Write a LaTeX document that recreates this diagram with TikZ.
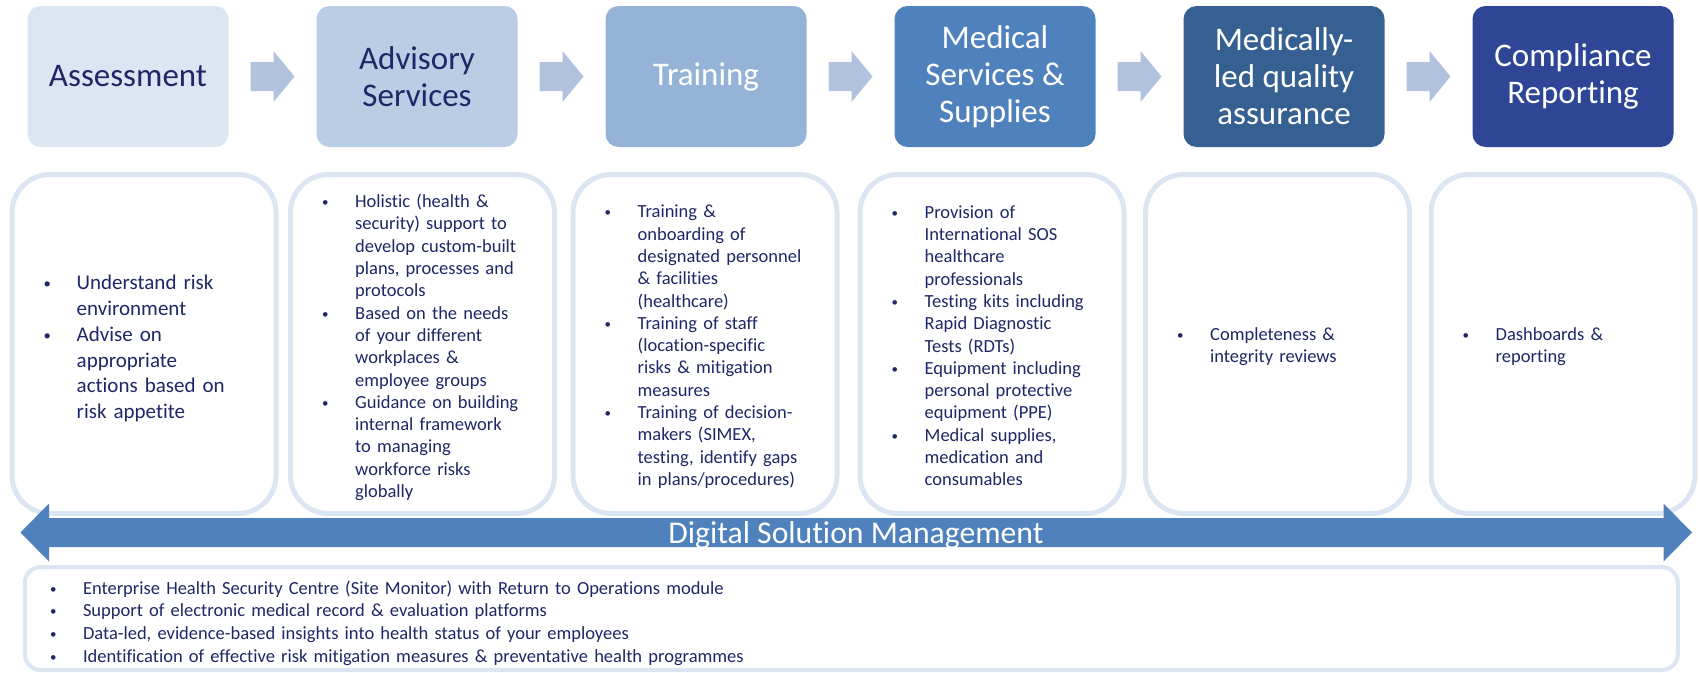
\documentclass[tikz,border=0pt]{standalone}
\usepackage{fontspec}
\usepackage{graphicx}
\setmainfont{Carlito}[Ligatures=NoCommon]
\usetikzlibrary{calc}

\definecolor{navy}{HTML}{1F2766}
\definecolor{stageA}{HTML}{DCE6F2}
\definecolor{stageB}{HTML}{B9CDE5}
\definecolor{stageC}{HTML}{95B3D7}
\definecolor{stageD}{HTML}{4F81BD}
\definecolor{stageE}{HTML}{366092}
\definecolor{stageF}{HTML}{2F4696}
\definecolor{chevcol}{HTML}{B1C2DE}
\definecolor{framecol}{HTML}{DCE6F2}
\definecolor{bandcol}{HTML}{4F81BD}

% one bullet point, lines broken by hand with \newline
\newcommand\itm[1]{\par\noindent\hangindent=33pt\hangafter=1%
  \makebox[33pt][l]{\raisebox{0.06em}{\scalebox{0.7}{\textbullet}}}#1\par}

\tikzset{
  stage/.style={rounded corners=13pt, minimum width=201pt, minimum height=141pt,
    inner sep=0pt, align=center, font=\fontsize{33}{37}\selectfont},
  panel/.style={draw=framecol, line width=5pt, rounded corners=38pt, fill=white,
    minimum width=264pt, minimum height=339pt},
  paneltext/.style={anchor=west, text width=232pt, align=left, inner sep=0pt,
    text=navy, font=\fontsize{18.5}{22.3}\selectfont},
  chev/.style={fill=chevcol}
}

\begin{document}
\begin{tikzpicture}[x=1pt,y=-1pt]
  \useasboundingbox (0,0) rectangle (1699,672);

  %%%%%%%%%%%%% the six stages %%%%%%%%%%%%%
  \node[stage, fill=stageA, text=navy]  (s1) at (128,76.5)  {Assessment};
  \node[stage, fill=stageB, text=navy]  (s2) at (417,76.5)  {Advisory\\Services};
  \node[stage, fill=stageC, text=white] (s3) at (706,76.5)  {Training};
  \node[stage, fill=stageD, text=white] (s4) at (995,76.5)  {Medical\\Services \&\\Supplies};
  \node[stage, fill=stageE, text=white] (s5) at (1284,76.5) {Medically-\\led quality\\assurance};
  \node[stage, fill=stageF, text=white] (s6) at (1573,76.5) {Compliance\\Reporting};

  \foreach \a/\b in {s1/s2,s2/s3,s3/s4,s4/s5,s5/s6}
    \fill[chev] ($(\a.east)!0.5!(\b.west)$) ++(-22,-14.5) -- ++(23,0) -- ++(0,-11)
      -- ++(21,25.5) -- ++(-21,25.5) -- ++(0,-11) -- ++(-23,0) -- cycle;

  %%%%%%%%%%%%% the panels under the stages %%%%%%%%%%%%%
  \node[panel] (p1) at (144,344)    {};
  \node[panel] (p2) at (422.5,344)  {};
  \node[panel] (p3) at (705,344)    {};
  \node[panel] (p4) at (992,344)    {};
  \node[panel] (p5) at (1277.5,344) {};
  \node[panel] (p6) at (1563,344)   {};

  \node[paneltext, font=\fontsize{21}{25.7}\selectfont] (t1) at ($(p1.west)+(34,-1)$) {%
    \itm{Understand risk\newline environment}
    \itm{Advise on\newline appropriate\newline actions based on\newline risk appetite}};
  \node[paneltext] (t2) at ($(p2.west)+(34,-1)$) {%
    \itm{Holistic (health \&\newline security) support to\newline develop custom-built\newline plans, processes and\newline protocols}
    \itm{Based on the needs\newline of your different\newline workplaces \&\newline employee groups}
    \itm{Guidance on building\newline internal framework\newline to managing\newline workforce risks\newline globally}};
  \node[paneltext] (t3) at ($(p3.west)+(34,-2)$) {%
    \itm{Training \&\newline onboarding of\newline designated personnel\newline \& facilities\newline (healthcare)}
    \itm{Training of staff\newline (location-specific\newline risks \& mitigation\newline measures}
    \itm{Training of decision-\newline makers (SIMEX,\newline testing, identify gaps\newline in plans/procedures)}};
  \node[paneltext] (t4) at ($(p4.west)+(34,-3)$) {%
    \itm{Provision of\newline International SOS\newline healthcare\newline professionals}
    \itm{Testing kits including\newline Rapid Diagnostic\newline Tests (RDTs)}
    \itm{Equipment including\newline personal protective\newline equipment (PPE)}
    \itm{Medical supplies,\newline medication and\newline consumables}};
  \node[paneltext] (t5) at ($(p5.west)+(34,-2)$) {%
    \itm{Completeness \&\newline integrity reviews}};
  \node[paneltext] (t6) at ($(p6.west)+(34,-2)$) {%
    \itm{Dashboards \&\newline reporting}};

  %%%%%%%%%%%%% digital band %%%%%%%%%%%%%
  \fill[bandcol] (20.5,532.5) -- (49,503.5) -- (49,518) -- (1663.5,518) -- (1663.5,503.5)
    -- (1692,532.5) -- (1663.5,561.5) -- (1663.5,547) -- (49,547) -- (49,561.5) -- cycle;
  \node[text=white, font=\fontsize{31.7}{36}\selectfont, inner sep=0pt] (band) at (856,535)
    {Digital Solution Management};

  \node[draw=framecol, line width=4pt, rounded corners=16pt, fill=white,
    minimum width=1653pt, minimum height=103pt] (dig) at (851.3,618.5) {};
  \node[paneltext, text width=1000pt, font=\fontsize{18.5}{22.7}\selectfont] (tdig)
    at ($(dig.west)+(27,0)$) {%
    \itm{Enterprise Health Security Centre (Site Monitor) with Return to Operations module}
    \itm{Support of electronic medical record \& evaluation platforms}
    \itm{Data-led, evidence-based insights into health status of your employees}
    \itm{Identification of effective risk mitigation measures \& preventative health programmes}};
\end{tikzpicture}
\end{document}
